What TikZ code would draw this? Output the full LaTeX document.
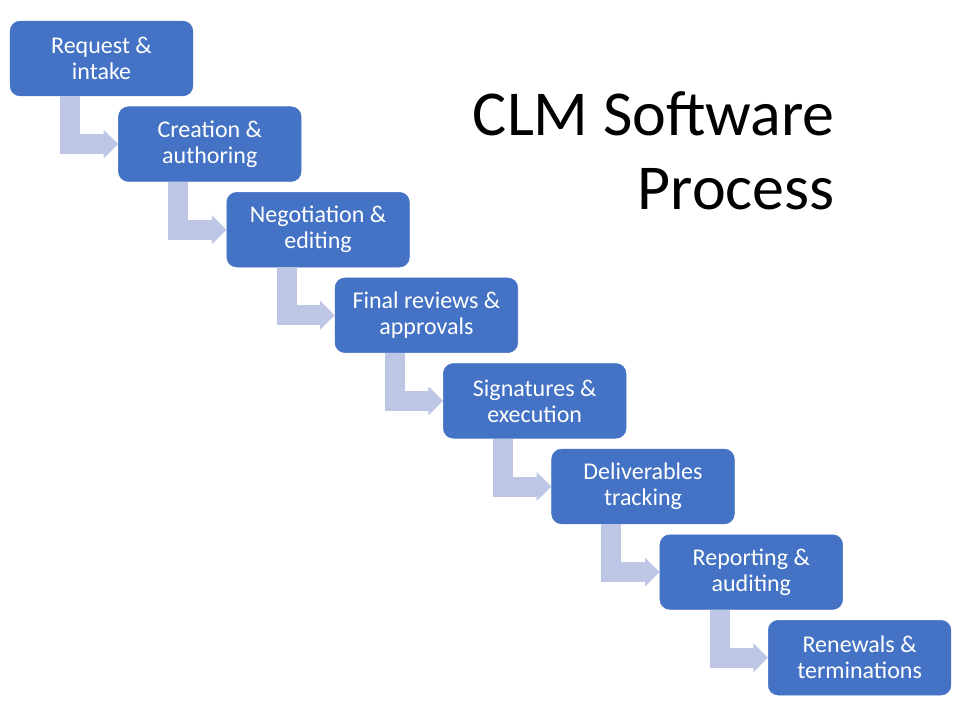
\documentclass[tikz,border=0pt]{standalone}
\usepackage{fontspec}
\setmainfont{Carlito}
\usetikzlibrary{arrows.meta}
\definecolor{stageblue}{RGB}{68,114,196}
\definecolor{flowgray}{RGB}{189,198,228}
\begin{document}
\begin{tikzpicture}[
  x=0.75pt, y=-0.75pt,
  stage/.style={draw=stageblue, fill=stageblue, rounded corners=7.5pt,
    minimum width=137pt, minimum height=56pt, inner sep=2pt, align=center,
    text=white, font=\fontsize{18pt}{19.5pt}\selectfont},
  flow/.style={draw=flowgray, line width=15pt, line join=miter,
    -{Triangle[width=21pt, length=11pt]}},
  ttl/.style={font=\fontsize{48pt}{55.5pt}\selectfont, align=right, inner sep=0pt}
]
\useasboundingbox (0,0) rectangle (960,720);

\node[stage] (req)  at (101.5,58.5)  {Request \&\\intake};
\node[stage] (crt)  at (209.8,144.1) {Creation \&\\authoring};
\node[stage] (neg)  at (318.1,229.7) {Negotiation \&\\editing};
\node[stage] (fin)  at (426.4,315.3) {Final reviews \&\\approvals};
\node[stage] (sig)  at (534.7,400.9) {Signatures \&\\execution};
\node[stage] (del)  at (643.0,486.5) {Deliverables\\tracking};
\node[stage] (rep)  at (751.3,572.1) {Reporting \&\\auditing};
\node[stage] (ren)  at (859.6,657.7) {Renewals \&\\terminations};

\draw[flow] (req.south west) ++(60,0) |- (crt.west);
\draw[flow] (crt.south west) ++(60,0) |- (neg.west);
\draw[flow] (neg.south west) ++(60,0) |- (fin.west);
\draw[flow] (fin.south west) ++(60,0) |- (sig.west);
\draw[flow] (sig.south west) ++(60,0) |- (del.west);
\draw[flow] (del.south west) ++(60,0) |- (rep.west);
\draw[flow] (rep.south west) ++(60,0) |- (ren.west);

\node[ttl, anchor=south east] (title) at (835,210) {CLM Software\\Process};
\end{tikzpicture}
\end{document}
